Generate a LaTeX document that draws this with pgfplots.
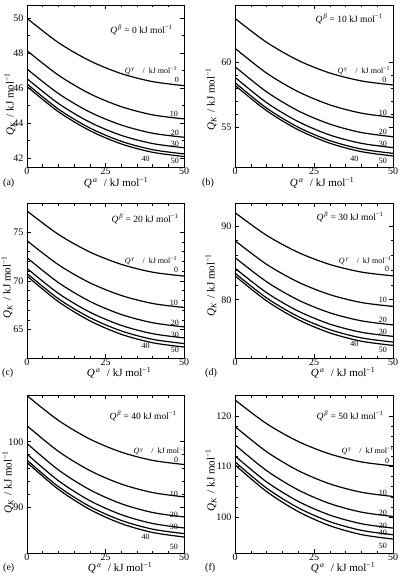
\documentclass[border=0pt]{standalone}
\usepackage{fontspec}
\setmainfont{Liberation Serif}
\usepackage{pgfplots}
\pgfplotsset{compat=1.18}

\newcommand{\Qa}{\textit{Q}\textsuperscript{\,\textit{α}}\hspace{6pt}/\hspace{3pt}kJ mol\textsuperscript{−1}}
\newcommand{\QK}{\textit{Q}\textsubscript{\textit{K}}\hspace{4pt}/\hspace{3pt}kJ mol\textsuperscript{−1}}
\newcommand{\Qg}{\textit{Q}\textsuperscript{\,\textit{γ}}\hspace{8pt}/\hspace{4pt}kJ mol\textsuperscript{−1}}
\newcommand{\Qb}[1]{\textit{Q}\textsuperscript{\,\textit{β}} = #1 kJ mol\textsuperscript{−1}}

\tikzset{lab/.style={font=\fontsize{8}{9}\selectfont, inner sep=0pt}}
\pgfplotsset{panel/.style={
  scale only axis, xmin=0, xmax=50, xtick={0,25,50}, minor x tick num=4,
  tick align=inside, tick pos=both,
  major tick length=4pt, minor tick length=2.5pt,
  axis line style={line width=0.7pt},
  every tick/.style={line width=0.6pt, black},
  ticklabel style={font=\fontsize{10}{12}\selectfont},
  xticklabel style={yshift=2.5pt},
  /pgf/number format/assume math mode=true,
  clip mode=individual,
  cycle list={{black, solid}},
  every axis plot/.append style={black, solid, line width=1.2pt, smooth, no markers},
}}

\begin{document}
\begin{tikzpicture}
\path[use as bounding box] (0,0) rectangle (403pt,-577pt);

% (a)
\begin{axis}[panel, at={(27pt,-5pt)}, anchor=north west, width=157pt, height=162pt,
  ymin=41.5, ymax=50.76, ytick={42,44,46,48,50}, minor y tick num=1]
\addplot coordinates {(0,50.0) (10,48.61) (20,47.57) (30,46.84) (40,46.38) (50,46.15)};
\addplot coordinates {(0,48.15) (10,46.75) (20,45.69) (30,44.95) (40,44.48) (50,44.25)};
\addplot coordinates {(0,47.1) (10,45.70) (20,44.64) (30,43.90) (40,43.43) (50,43.2)};
\addplot coordinates {(0,46.55) (10,45.13) (20,44.06) (30,43.31) (40,42.84) (50,42.6)};
\addplot coordinates {(0,46.25) (10,44.81) (20,43.73) (30,42.97) (40,42.49) (50,42.25)};
\addplot coordinates {(0,46.1) (10,44.66) (20,43.58) (30,42.82) (40,42.34) (50,42.1)};
\node[anchor=north east, font=\fontsize{9.5}{11}\selectfont] at ([xshift=-8pt,yshift=-16pt]rel axis cs:1,1) {\Qb{0}};
\node[lab] at (axis cs:39.5,46.99) {\Qg};
\node[lab] at (axis cs:47.7,46.48) {0};
\node[lab] at (axis cs:46.8,44.53) {10};
\node[lab] at (axis cs:47.1,43.43) {20};
\node[lab] at (axis cs:47.1,42.82) {30};
\node[lab] at (axis cs:37.8,41.94) {40};
\node[lab] at (axis cs:47.1,41.85) {50};
\end{axis}

% (b)
\begin{axis}[panel, at={(235pt,-5pt)}, anchor=north west, width=158pt, height=162pt,
  ymin=51.95, ymax=64.41, ytick={55,60}, minor y tick num=4]
\addplot coordinates {(0,63.38) (10,61.54) (20,60.15) (30,59.18) (40,58.57) (50,58.26)};
\addplot coordinates {(0,61.08) (10,59.17) (20,57.74) (30,56.73) (40,56.09) (50,55.77)};
\addplot coordinates {(0,59.67) (10,57.73) (20,56.27) (30,55.25) (40,54.60) (50,54.28)};
\addplot coordinates {(0,58.85) (10,56.90) (20,55.44) (30,54.41) (40,53.77) (50,53.44)};
\addplot coordinates {(0,58.44) (10,56.48) (20,55.01) (30,53.98) (40,53.33) (50,53.0)};
\addplot coordinates {(0,58.23) (10,56.28) (20,54.81) (30,53.78) (40,53.13) (50,52.8)};
\node[anchor=north east, font=\fontsize{9.5}{11}\selectfont] at ([xshift=-7pt,yshift=-5pt]rel axis cs:1,1) {\Qb{10}};
\node[lab] at (axis cs:40.8,59.33) {\Qg};
\node[lab] at (axis cs:47.3,58.64) {0};
\node[lab] at (axis cs:46.8,56.08) {10};
\node[lab] at (axis cs:46.8,54.62) {20};
\node[lab] at (axis cs:46.8,53.72) {30};
\node[lab] at (axis cs:37.8,52.54) {40};
\node[lab] at (axis cs:46.8,52.44) {50};
\end{axis}

% (c)
\begin{axis}[panel, at={(27pt,-203pt)}, anchor=north west, width=157pt, height=155pt,
  ymin=62.07, ymax=78.02, ytick={65,70,75}, minor y tick num=4]
\addplot coordinates {(0,77.2) (10,74.79) (20,72.98) (30,71.71) (40,70.90) (50,70.5)};
\addplot coordinates {(0,74.14) (10,71.67) (20,69.81) (30,68.51) (40,67.68) (50,67.27)};
\addplot coordinates {(0,72.39) (10,69.83) (20,67.90) (30,66.55) (40,65.70) (50,65.27)};
\addplot coordinates {(0,71.29) (10,68.72) (20,66.79) (30,65.43) (40,64.57) (50,64.14)};
\addplot coordinates {(0,70.77) (10,68.17) (20,66.23) (30,64.86) (40,63.99) (50,63.56)};
\addplot coordinates {(0,70.5) (10,67.87) (20,65.90) (30,64.51) (40,63.64) (50,63.2)};
\node[anchor=north east, font=\fontsize{9.5}{11}\selectfont] at ([xshift=-2pt,yshift=-7pt]rel axis cs:1,1) {\Qb{20}};
\node[lab] at (axis cs:39.5,72.08) {\Qg};
\node[lab] at (axis cs:47.5,71.12) {0};
\node[lab] at (axis cs:46.8,67.75) {10};
\node[lab] at (axis cs:47.1,65.72) {20};
\node[lab] at (axis cs:47.1,64.42) {30};
\node[lab] at (axis cs:37.8,63.28) {40};
\node[lab] at (axis cs:47.1,62.87) {50};
\end{axis}

% (d)
\begin{axis}[panel, at={(235pt,-203pt)}, anchor=north west, width=158pt, height=155pt,
  ymin=72.12, ymax=93.1, ytick={80,90}, minor y tick num=4]
\addplot coordinates {(0,91.8) (10,88.72) (20,86.41) (30,84.78) (40,83.75) (50,83.24)};
\addplot coordinates {(0,88.0) (10,84.80) (20,82.39) (30,80.70) (40,79.63) (50,79.1)};
\addplot coordinates {(0,85.72) (10,82.44) (20,79.97) (30,78.24) (40,77.15) (50,76.6)};
\addplot coordinates {(0,84.28) (10,80.96) (20,78.47) (30,76.71) (40,75.60) (50,75.05)};
\addplot coordinates {(0,83.6) (10,80.25) (20,77.73) (30,75.96) (40,74.84) (50,74.28)};
\addplot coordinates {(0,83.24) (10,79.85) (20,77.31) (30,75.52) (40,74.39) (50,73.83)};
\node[anchor=north east, font=\fontsize{9.5}{11}\selectfont] at ([xshift=-6pt,yshift=-5pt]rel axis cs:1,1) {\Qb{30}};
\node[lab] at (axis cs:41.2,85.32) {\Qg};
\node[lab] at (axis cs:48.1,84.19) {0};
\node[lab] at (axis cs:46.8,80.0) {10};
\node[lab] at (axis cs:46.8,77.3) {20};
\node[lab] at (axis cs:46.8,75.72) {30};
\node[lab] at (axis cs:37.8,74.0) {40};
\node[lab] at (axis cs:46.8,73.24) {50};
\end{axis}

% (e)
\begin{axis}[panel, at={(27pt,-395pt)}, anchor=north west, width=157pt, height=158pt,
  ymin=82.92, ymax=107.18, ytick={90,100}, minor y tick num=4]
\addplot coordinates {(0,107.08) (10,103.28) (20,100.42) (30,98.41) (40,97.14) (50,96.51)};
\addplot coordinates {(0,102.46) (10,98.53) (20,95.58) (30,93.51) (40,92.20) (50,91.54)};
\addplot coordinates {(0,99.74) (10,95.68) (20,92.63) (30,90.49) (40,89.14) (50,88.46)};
\addplot coordinates {(0,98.1) (10,94.02) (20,90.96) (30,88.81) (40,87.45) (50,86.77)};
\addplot coordinates {(0,97.18) (10,93.12) (20,90.07) (30,87.93) (40,86.58) (50,85.9)};
\addplot coordinates {(0,96.82) (10,92.70) (20,89.61) (30,87.44) (40,86.07) (50,85.38)};
\node[anchor=north east, font=\fontsize{9.5}{11}\selectfont] at ([xshift=-4pt,yshift=-12pt]rel axis cs:1,1) {\Qb{40}};
\node[lab] at (axis cs:42.3,98.56) {\Qg};
\node[lab] at (axis cs:47.5,97.18) {0};
\node[lab] at (axis cs:46.8,92.05) {10};
\node[lab] at (axis cs:46.8,88.72) {20};
\node[lab] at (axis cs:46.8,86.92) {30};
\node[lab] at (axis cs:37.8,85.38) {40};
\node[lab] at (axis cs:46.8,83.9) {50};
\end{axis}

% (f)
\begin{axis}[panel, at={(235pt,-395pt)}, anchor=north west, width=158pt, height=158pt,
  ymin=92.9, ymax=124.14, ytick={100,110,120}, minor y tick num=4]
\addplot coordinates {(0,123.16) (10,118.47) (20,114.95) (30,112.48) (40,110.91) (50,110.13)};
\addplot coordinates {(0,117.9) (10,112.93) (20,109.19) (30,106.57) (40,104.91) (50,104.08)};
\addplot coordinates {(0,114.28) (10,109.19) (20,105.37) (30,102.68) (40,100.98) (50,100.13)};
\addplot coordinates {(0,112.1) (10,106.96) (20,103.11) (30,100.40) (40,98.69) (50,97.83)};
\addplot coordinates {(0,110.92) (10,105.73) (20,101.84) (30,99.10) (40,97.38) (50,96.51)};
\addplot coordinates {(0,110.33) (10,105.05) (20,101.09) (30,98.30) (40,96.54) (50,95.66)};
\node[anchor=north east, font=\fontsize{9.5}{11}\selectfont] at ([xshift=-6pt,yshift=-12pt]rel axis cs:1,1) {\Qb{50}};
\node[lab] at (axis cs:42.0,113.09) {\Qg};
\node[lab] at (axis cs:48.1,111.18) {0};
\node[lab] at (axis cs:46.8,104.87) {10};
\node[lab] at (axis cs:46.8,100.92) {20};
\node[lab] at (axis cs:46.8,98.36) {30};
\node[lab] at (axis cs:46.8,96.84) {40};
\node[lab] at (axis cs:46.8,94.3) {50};
\end{axis}

% axis labels and panel letters
\begin{scope}[every node/.style={font=\fontsize{11}{13}\selectfont, inner sep=0pt}]
\node at (116pt,-183pt) {\Qa};
\node at (322pt,-183pt) {\Qa};
\node at (119pt,-373pt) {\Qa};
\node at (343pt,-373pt) {\Qa};
\node at (120pt,-568pt) {\Qa};
\node at (343pt,-568pt) {\Qa};
\node[rotate=90] at (10pt,-104pt) {\QK};
\node[rotate=90] at (211pt,-99pt) {\QK};
\node[rotate=90] at (7pt,-287pt) {\QK};
\node[rotate=90] at (211pt,-285pt) {\QK};
\node[rotate=90] at (8pt,-482pt) {\QK};
\node[rotate=90] at (211pt,-480pt) {\QK};
\end{scope}
\begin{scope}[every node/.style={font=\fontsize{10}{12}\selectfont, inner sep=0pt, anchor=west}]
\node at (3pt,-183pt) {(a)};
\node at (202pt,-183pt) {(b)};
\node at (2pt,-373pt) {(c)};
\node at (205pt,-373pt) {(d)};
\node at (3pt,-568pt) {(e)};
\node at (205pt,-568pt) {(f)};
\end{scope}
\end{tikzpicture}
\end{document}
